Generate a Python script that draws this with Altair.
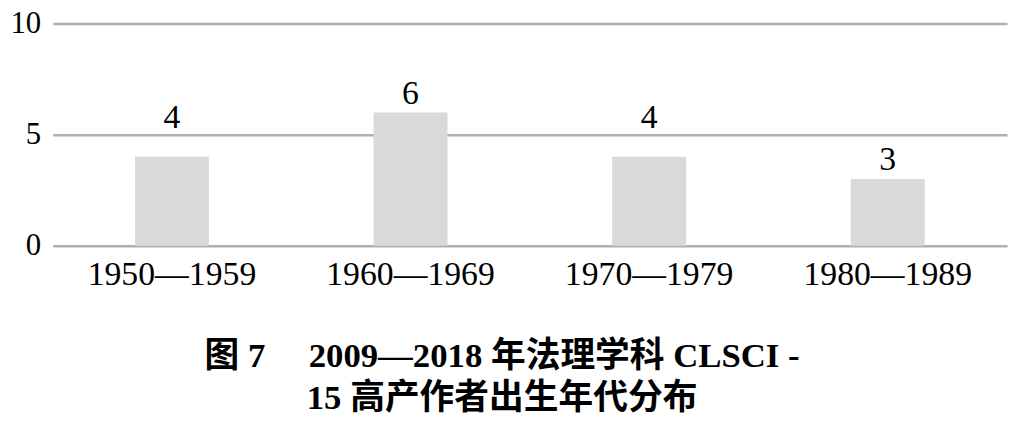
import altair as alt
import pandas as pd

decades = ["1950—1959", "1960—1969", "1970—1979", "1980—1989"]
counts = [4, 6, 4, 3]
y_ticks = [0, 5, 10]
title_lines = ["图 7\u00a0\u00a0\u00a0\u00a0\u00a02009—2018 年法理学科 CLSCI -", "15 高产作者出生年代分布"]

df = pd.DataFrame({"decade": decades, "count": counts})

SERIF = "Liberation Serif"
TITLE_FONT = "Liberation Serif, Noto Sans CJK SC"

base = alt.Chart(df).encode(
    x=alt.X(
        "decade:N",
        sort=decades,
        title=None,
        scale=alt.Scale(paddingInner=0.69, paddingOuter=0.345),
        axis=alt.Axis(
            labelAngle=0, labelFontSize=34, labelFont=SERIF, labelColor="#000000",
            domain=False, ticks=False, labelPadding=12,
        ),
    ),
)

bars = base.mark_bar(color="#d9d9d9").encode(
    y=alt.Y(
        "count:Q",
        title=None,
        scale=alt.Scale(domain=[0, 10], nice=False),
        axis=alt.Axis(
            values=y_ticks, labelFontSize=31, labelFont=SERIF, labelColor="#000000",
            domain=False, ticks=False, grid=True, gridColor="#b0b0b0", gridWidth=2.5,
            labelPadding=12,
        ),
    ),
)

# value labels: placed just above the bar, lifted above a gridline they would cross
labels = (
    base.transform_calculate(
        label_pos="(datum.count + 0.4 < 5 && datum.count + 1.5 > 5) ? 5.3 : datum.count + 0.4"
    )
    .mark_text(baseline="alphabetic", fontSize=34, font=SERIF, color="#000000")
    .encode(y=alt.Y("label_pos:Q"), text="count:Q")
)

chart = (
    alt.layer(bars, labels)
    .properties(
        width=962,
        height=224,
        autosize=alt.AutoSizeParams(type="none"),
        padding={"left": 45, "top": 14, "right": 4, "bottom": 178},
        title=alt.TitleParams(
            text=title_lines,
            orient="bottom",
            anchor="middle",
            fontSize=35,
            font=TITLE_FONT,
            fontWeight="bold",
            color="#000000",
            lineHeight=43,
            offset=48,
            dx=-28,
        ),
    )
    .configure_view(stroke=None)
)

chart.save("out.html", embed_options={"renderer": "svg", "actions": False})
